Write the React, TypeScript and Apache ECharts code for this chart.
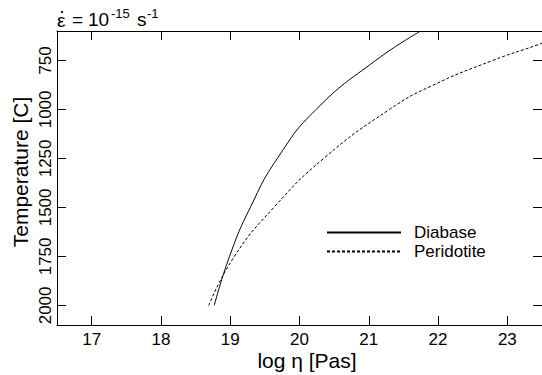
import React, { useEffect, useRef } from "react";
import * as echarts from "echarts";

// Diabase (solid) – log viscosity vs temperature
const diabaseLogEta = [18.77, 18.99, 19.29, 19.68, 20.24, 21.1, 21.75];
const diabaseTemp = [2000, 1750, 1500, 1250, 1000, 750, 600];

// Peridotite (dashed)
const peridotiteLogEta = [18.69, 19.06, 19.63, 20.35, 21.3, 21.9, 22.79, 23.42, 23.5];
const peridotiteTemp = [2000, 1750, 1500, 1250, 1000, 881, 750, 673, 662];

const xTicks = [17, 18, 19, 20, 21, 22, 23];
const yTicks = [750, 1000, 1250, 1500, 1750, 2000];

const FONT = '"Liberation Sans", Arial, Helvetica, sans-serif';

export default function App() {
  const ref = useRef<HTMLDivElement>(null);
  useEffect(() => {
    document.body.style.margin = "0";
    if (!ref.current) return;
    const chart = echarts.init(ref.current, undefined, { renderer: "svg" });
    const axisLine = { show: true, onZero: false, lineStyle: { color: "#000", width: 1 } };
    const tickStyle = { color: "#000", width: 1 };
    const txt = (text: string, x: number, y: number, size: number, align = "left", rotation = 0) => ({
      type: "text",
      x,
      y,
      rotation,
      style: {
        text,
        font: `${size}px ${FONT}`,
        fill: "#000",
        textAlign: align,
        textVerticalAlign: "middle",
        align,
        verticalAlign: "middle",
      },
    });
    const option: any = {
      animation: false,
      backgroundColor: "#fff",
      grid: { left: 57, top: 31, right: -5, bottom: 50, containLabel: false },
      legend: {
        show: true,
        orient: "vertical",
        left: 326,
        top: 224,
        padding: 0,
        itemWidth: 74,
        itemHeight: 14,
        itemGap: 2,
        selectedMode: false,
        itemStyle: { opacity: 0 },
        textStyle: { fontSize: 17, lineHeight: 17, fontFamily: FONT, color: "#000", padding: [0, 0, 0, 8] },
        data: ["Diabase", "Peridotite"],
      },
      xAxis: [
        {
          type: "value",
          min: 16.5,
          max: 23.5,
          position: "bottom",
          axisLine,
          axisTick: { show: true, inside: true, length: 9, customValues: xTicks, lineStyle: tickStyle },
          axisLabel: { show: true, customValues: xTicks, fontSize: 17, fontFamily: FONT, color: "#000", margin: 6 },
          splitLine: { show: false },
        },
        {
          type: "value",
          min: 16.5,
          max: 23.5,
          position: "top",
          axisLine,
          axisTick: { show: true, inside: true, length: 9, customValues: xTicks, lineStyle: tickStyle },
          axisLabel: { show: false },
          splitLine: { show: false },
        },
      ],
      yAxis: [
        {
          type: "value",
          min: 600,
          max: 2100,
          inverse: true,
          position: "left",
          axisLine,
          axisTick: { show: true, inside: true, length: 9, customValues: yTicks, lineStyle: tickStyle },
          axisLabel: {
            show: true,
            customValues: yTicks,
            rotate: 90,
            fontSize: 17,
            fontFamily: FONT,
            color: "#000",
            margin: 3,
            formatter: (v: number) => String(v),
          },
          splitLine: { show: false },
        },
        {
          type: "value",
          min: 600,
          max: 2100,
          inverse: true,
          position: "right",
          axisLine,
          axisTick: { show: true, inside: true, length: 9, customValues: yTicks, lineStyle: tickStyle },
          axisLabel: { show: false },
          splitLine: { show: false },
        },
      ],
      series: [
        {
          name: "Diabase",
          type: "line",
          data: diabaseLogEta.map((x, i) => [x, diabaseTemp[i]]),
          symbol: "none",
          smooth: 0.5,
          clip: true,
          lineStyle: { color: "#000", width: 1, type: "solid" },
          itemStyle: { color: "#000" },
        },
        {
          name: "Peridotite",
          type: "line",
          data: peridotiteLogEta.map((x, i) => [x, peridotiteTemp[i]]),
          symbol: "none",
          smooth: 0.5,
          clip: true,
          lineStyle: { color: "#000", width: 1, type: [3, 2] },
          itemStyle: { color: "#000" },
        },
      ],
      graphic: [
        txt("ε", 57, 20, 19),
        { type: "circle", shape: { cx: 62, cy: 12, r: 1.1 }, style: { fill: "#000" } },
        txt("=", 72, 19, 19),
        txt("10", 88, 19, 19),
        txt("-15", 111, 13, 13),
        txt("s", 137, 19, 19),
        txt("-1", 147, 13, 13),
        txt("log η [Pas]", 307, 360, 21, "center"),
        txt("Temperature [C]", 20, 172, 21, "center", Math.PI / 2),
      ],
    };
    chart.setOption(option);
    return () => chart.dispose();
  }, []);
  return <div ref={ref} style={{ width: 542, height: 375 }} />;
}
